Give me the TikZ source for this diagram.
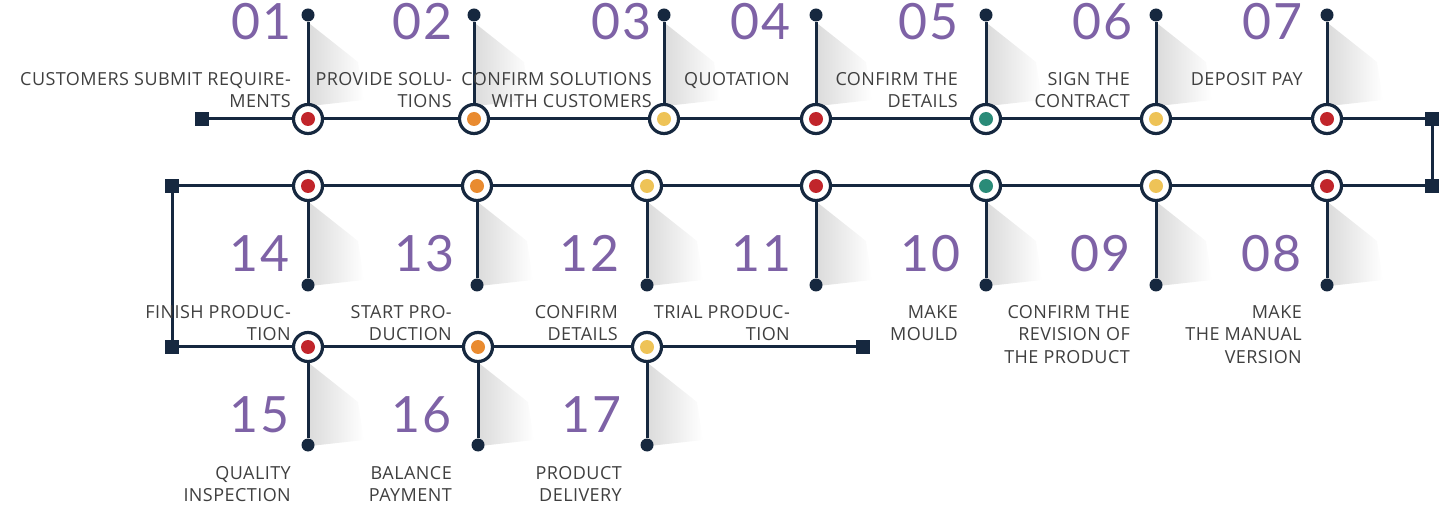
\documentclass[tikz,border=0pt]{standalone}
\usepackage{fontspec}
\setmainfont{Open Sans}
\newfontfamily\lblfont[LetterSpace=2.5]{Open Sans}
\newfontfamily\numfont[LetterSpace=4.0]{Lato}
\definecolor{navy}{HTML}{16283F}
\definecolor{dotred}{HTML}{C1252B}
\definecolor{dotorange}{HTML}{E98B30}
\definecolor{dotyellow}{HTML}{EEC357}
\definecolor{dotteal}{HTML}{2A8B78}
\definecolor{numpurple}{HTML}{7E62A6}
\definecolor{lblgray}{HTML}{3F3F3F}
\definecolor{shadowgray}{HTML}{DCDCDC}
\tikzset{
  ring/.style={circle, draw=navy, line width=3.2pt, fill=white, minimum size=29pt, inner sep=0pt},
  tip/.style={circle, fill=navy, minimum size=13pt, inner sep=0pt},
  endsq/.style={rectangle, fill=navy, minimum size=14pt, inner sep=0pt},
  track/.style={draw=navy, line width=3pt},
  stepnum/.style={anchor=base east, inner sep=0pt, text=numpurple, font=\numfont\fontsize{50}{50}\selectfont},
  steptext/.style={anchor=north east, align=right, inner sep=0pt, text=lblgray, font=\lblfont\fontsize{18}{22.5}\selectfont},
}
\begin{document}
\begin{tikzpicture}[x=1pt, y=-1pt]
\useasboundingbox (0,0) rectangle (1440,510);

% soft shadows beside the stems
\foreach \s in {308,474,664,816,986,1156,1327}
  \shade[left color=shadowgray, right color=white] (\s+2,24) -- (\s+50,62) -- (\s+56,100) -- (\s+2,106) -- cycle;
\foreach \s in {308,477,647,816,986,1156,1327}
  \shade[left color=shadowgray, right color=white] (\s+2,203) -- (\s+50,241) -- (\s+56,280) -- (\s+2,286) -- cycle;
\foreach \s in {308,478,647}
  \shade[left color=shadowgray, right color=white] (\s+2,364) -- (\s+50,402) -- (\s+56,440) -- (\s+2,446) -- cycle;

% end squares
\node[endsq] (sqa) at (202,119) {};
\node[endsq] (sqb) at (1432,119) {};
\node[endsq] (sqc) at (1432,186) {};
\node[endsq] (sqd) at (172,186) {};
\node[endsq] (sqe) at (172,347) {};
\node[endsq] (sqf) at (863,347) {};

% stations
\node[ring] (st1) at (308,119) {};
\node[ring] (st2) at (474,119) {};
\node[ring] (st3) at (664,119) {};
\node[ring] (st4) at (816,119) {};
\node[ring] (st5) at (986,119) {};
\node[ring] (st6) at (1156,119) {};
\node[ring] (st7) at (1327,119) {};
\node[ring] (st8) at (1327,186) {};
\node[ring] (st9) at (1156,186) {};
\node[ring] (st10) at (986,186) {};
\node[ring] (st11) at (816,186) {};
\node[ring] (st12) at (647,186) {};
\node[ring] (st13) at (477,186) {};
\node[ring] (st14) at (308,186) {};
\node[ring] (st15) at (308,347) {};
\node[ring] (st16) at (478,347) {};
\node[ring] (st17) at (647,347) {};

% stem ends
\node[tip] (tp1) at (308,15) {};
\node[tip] (tp2) at (474,15) {};
\node[tip] (tp3) at (664,15) {};
\node[tip] (tp4) at (816,15) {};
\node[tip] (tp5) at (986,15) {};
\node[tip] (tp6) at (1156,15) {};
\node[tip] (tp7) at (1327,15) {};
\node[tip] (tp8) at (1327,285) {};
\node[tip] (tp9) at (1156,285) {};
\node[tip] (tp10) at (986,285) {};
\node[tip] (tp11) at (816,285) {};
\node[tip] (tp12) at (647,285) {};
\node[tip] (tp13) at (477,285) {};
\node[tip] (tp14) at (308,285) {};
\node[tip] (tp15) at (308,445) {};
\node[tip] (tp16) at (478,445) {};
\node[tip] (tp17) at (647,445) {};

% the track
\draw[track] (sqa) -- (st1) -- (st2) -- (st3) -- (st4) -- (st5) -- (st6) -- (st7) -- (sqb) -- (sqc)
  -- (st8) -- (st9) -- (st10) -- (st11) -- (st12) -- (st13) -- (st14) -- (sqd) -- (sqe)
  -- (st15) -- (st16) -- (st17) -- (sqf);
\draw[track] (st1) -- (tp1);
\draw[track] (st2) -- (tp2);
\draw[track] (st3) -- (tp3);
\draw[track] (st4) -- (tp4);
\draw[track] (st5) -- (tp5);
\draw[track] (st6) -- (tp6);
\draw[track] (st7) -- (tp7);
\draw[track] (st8) -- (tp8);
\draw[track] (st9) -- (tp9);
\draw[track] (st10) -- (tp10);
\draw[track] (st11) -- (tp11);
\draw[track] (st12) -- (tp12);
\draw[track] (st13) -- (tp13);
\draw[track] (st14) -- (tp14);
\draw[track] (st15) -- (tp15);
\draw[track] (st16) -- (tp16);
\draw[track] (st17) -- (tp17);

% coloured centres
\fill[dotred] (st1) circle (7);
\fill[dotorange] (st2) circle (7);
\fill[dotyellow] (st3) circle (7);
\fill[dotred] (st4) circle (7);
\fill[dotteal] (st5) circle (7);
\fill[dotyellow] (st6) circle (7);
\fill[dotred] (st7) circle (7);
\fill[dotred] (st8) circle (7);
\fill[dotyellow] (st9) circle (7);
\fill[dotteal] (st10) circle (7);
\fill[dotred] (st11) circle (7);
\fill[dotyellow] (st12) circle (7);
\fill[dotorange] (st13) circle (7);
\fill[dotred] (st14) circle (7);
\fill[dotred] (st15) circle (7);
\fill[dotorange] (st16) circle (7);
\fill[dotyellow] (st17) circle (7);

% step numbers
\node[stepnum] (n1) at (292,40) {01};
\node[stepnum] (n2) at (453,40) {02};
\node[stepnum] (n3) at (652,40) {03};
\node[stepnum] (n4) at (791,40) {04};
\node[stepnum] (n5) at (959,40) {05};
\node[stepnum] (n6) at (1133,40) {06};
\node[stepnum] (n7) at (1303,40) {07};
\node[stepnum] (n8) at (1302,272) {08};
\node[stepnum] (n9) at (1131,272) {09};
\node[stepnum] (n10) at (961,272) {10};
\node[stepnum] (n11) at (792,272) {11};
\node[stepnum] (n12) at (620,272) {12};
\node[stepnum] (n13) at (455,272) {13};
\node[stepnum] (n14) at (290,272) {14};
\node[stepnum] (n15) at (290,432) {15};
\node[stepnum] (n16) at (452,432) {16};
\node[stepnum] (n17) at (622,432) {17};

% step texts
\node[steptext] (l1) at (291,72) {CUSTOMERS SUBMIT REQUIRE-\\MENTS};
\node[steptext] (l2) at (452,72) {PROVIDE SOLU-\\TIONS};
\node[steptext] (l3) at (652,72) {CONFIRM SOLUTIONS\\WITH CUSTOMERS};
\node[steptext] (l4) at (790,72) {QUOTATION};
\node[steptext] (l5) at (958,72) {CONFIRM THE\\DETAILS};
\node[steptext] (l6) at (1130,72) {SIGN THE\\CONTRACT};
\node[steptext] (l7) at (1303,72) {DEPOSIT PAY};
\node[steptext] (l8) at (1302,305) {MAKE\\THE MANUAL\\VERSION};
\node[steptext] (l9) at (1130,305) {CONFIRM THE\\REVISION OF\\THE PRODUCT};
\node[steptext] (l10) at (958,305) {MAKE\\MOULD};
\node[steptext] (l11) at (790,305) {TRIAL PRODUC-\\TION};
\node[steptext] (l12) at (618,305) {CONFIRM\\DETAILS};
\node[steptext] (l13) at (452,305) {START PRO-\\DUCTION};
\node[steptext] (l14) at (291,305) {FINISH PRODUC-\\TION};
\node[steptext] (l15) at (291,466) {QUALITY\\INSPECTION};
\node[steptext] (l16) at (452,466) {BALANCE\\PAYMENT};
\node[steptext] (l17) at (622,466) {PRODUCT\\DELIVERY};
\end{tikzpicture}
\end{document}
